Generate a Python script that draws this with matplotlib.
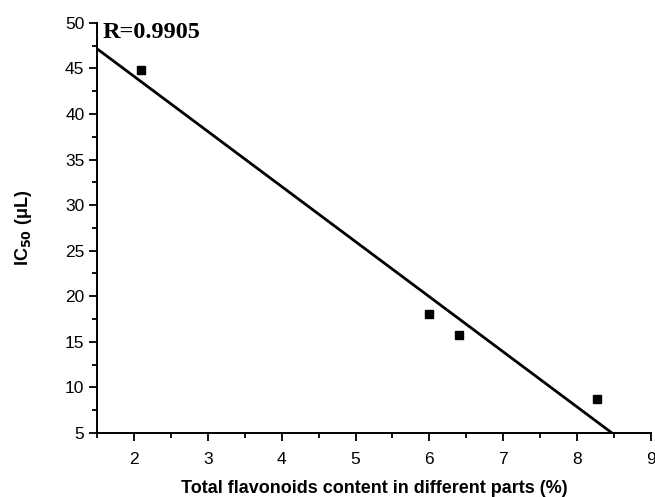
import numpy as np
import matplotlib.pyplot as plt
from matplotlib.ticker import MultipleLocator

plt.rcParams['font.family'] = ['Liberation Sans', 'DejaVu Sans']

# data
flavonoids = [2.1, 6.0, 6.4, 8.27]
ic50 = [44.8, 18.0, 15.7, 8.7]

# linear fit
slope, intercept = np.polyfit(flavonoids, ic50, 1)
xfit = np.array([1.5, 9.0])
yfit = slope*xfit + intercept

fig = plt.figure(figsize=(6.55, 4.97), dpi=100)
ax = fig.add_axes([0.148, 0.129, 0.846, 0.825])

ax.plot(xfit, yfit, color='black', lw=2.0)
ax.plot(flavonoids, ic50, 's', color='black', markersize=6)

ax.set_xlim(1.5, 9)
ax.set_ylim(5, 50)
ax.xaxis.set_major_locator(MultipleLocator(1))
ax.xaxis.set_minor_locator(MultipleLocator(0.5))
ax.yaxis.set_major_locator(MultipleLocator(5))
ax.yaxis.set_minor_locator(MultipleLocator(2.5))
ax.tick_params(which='major', direction='out', length=6, width=1.3, labelsize=12.5)
ax.tick_params(which='minor', direction='out', length=3.5, width=1.3)
ax.tick_params(axis='x', which='major', pad=8)
ax.tick_params(axis='y', which='major', pad=3)

for s in ['top', 'right']:
    ax.spines[s].set_visible(False)
for s in ['left', 'bottom']:
    ax.spines[s].set_linewidth(1.4)

ax.set_xlabel('Total flavonoids content in different parts (%)', fontsize=13, fontweight='bold', labelpad=9)
ax.set_ylabel(r'IC$_{\mathbf{50}}$ (μL)', fontsize=13, fontweight='bold', labelpad=22)

ax.text(1.57, 48.95, 'R=0.9905', fontsize=17.5, fontweight='bold',
        family='Liberation Serif', va='center', ha='left')

fig.savefig('out.png', dpi=100)
